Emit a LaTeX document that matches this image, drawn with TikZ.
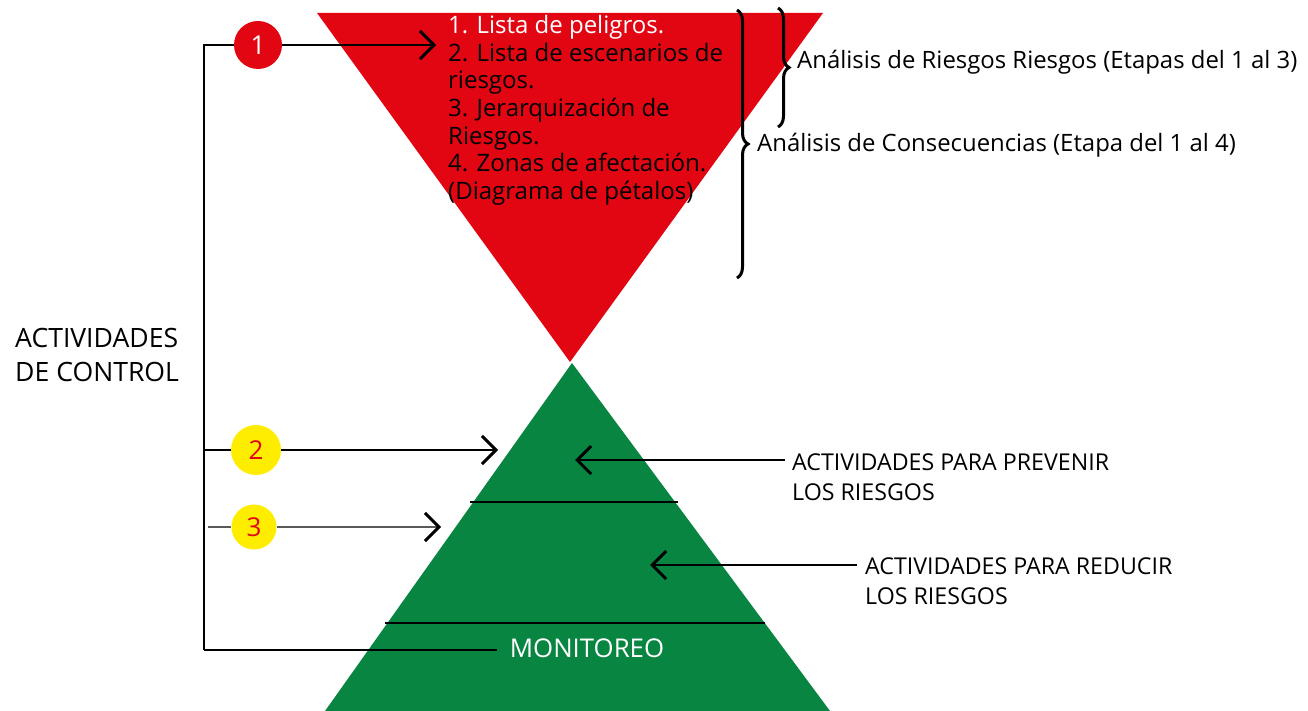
\documentclass[tikz,border=0pt]{standalone}
\usepackage{fontspec}
\setmainfont{Open Sans}
\usetikzlibrary{arrows.meta,decorations.pathreplacing}
\definecolor{tred}{RGB}{226,6,19}
\definecolor{tgreen}{RGB}{7,133,65}
\definecolor{tyellow}{RGB}{255,237,0}
\begin{document}
\begin{tikzpicture}[x=1pt,y=-1pt,
  conn/.style={line width=1.8pt},
  arr/.style={line width=1.6pt,-{Straight Barb[length=14pt,width=28pt,line width=3pt]}},
  num/.style={circle,inner sep=0pt,minimum size=48pt,font=\fontsize{26}{26}\selectfont},
  lbl/.style={inner sep=0pt,anchor=west,font=\fontsize{23.9}{30}\selectfont,align=left},
  act/.style={inner sep=0pt,anchor=west,font=\fontsize{23.2}{30}\selectfont,align=left},
  brc/.style={decorate,line width=3pt,decoration={brace,amplitude=11pt}}]
\useasboundingbox (0,0) rectangle (1308,711);
% triangles
\fill[tred] (317,13) -- (823,13) -- (570,362) -- cycle;
\fill[tgreen] (572,363) -- (830,711) -- (325,711) -- cycle;
\draw[line width=1.6pt] (470,502) -- (678,502);
\draw[line width=1.6pt] (385,623) -- (765,623);
% red triangle text
\node[inner sep=0pt,anchor=north west,align=left,font=\fontsize{24}{27.7}\selectfont] (steps) at (448,15)
 {{\color{white}1. Lista de peligros.}\\2. Lista de escenarios de\\riesgos.\\3. Jerarquización de\\Riesgos.\\4. Zonas de afectación.\\(Diagrama de pétalos)};
% braces
\coordinate (bigtop) at (737,10);
\coordinate (bigbot) at (737,278);
\coordinate (smtop) at (778,8);
\coordinate (smbot) at (778,127);
\draw[brc] (bigtop) -- (bigbot);
\draw[brc] (smtop) -- (smbot);
\node[lbl] (ar) at (797,62) {Análisis de Riesgos Riesgos (Etapas del 1 al 3)};
\node[lbl] (ac) at (757,145) {Análisis de Consecuencias (Etapa del 1 al 4)};
% left label
\node[lbl,font=\fontsize{26.6}{34}\selectfont] (ctrl) at (15,355) {ACTIVIDADES\\DE CONTROL};
% circles
\node[num,fill=tred,text=white] (c1) at (258,45) {1};
\node[num,fill=tyellow,text=tred,minimum size=50pt] (c2) at (256,450) {2};
\node[num,fill=tyellow,text=tred,minimum size=45pt] (c3) at (254,527) {3};
% connector coordinates
\coordinate (tl) at (204,45);
\coordinate (l2) at (204,450);
\coordinate (bl) at (204,650);
\coordinate (s3) at (208,527);
\coordinate (a1) at (436,45);
\coordinate (a2) at (498,450);
\coordinate (a3) at (441,527);
\node[inner sep=0pt,text=white,font=\fontsize{25.8}{25.8}\selectfont] (mon) at (587,648) {MONITOREO};
\coordinate (me) at (497,650);
\draw[conn] (bl) -- (tl) -- (c1.west);
\draw[arr] (c1.east) -- (a1);
\draw[conn] (l2) -- (c2.west);
\draw[arr] (c2.east) -- (a2);
\draw[conn,black!65] (s3) -- (c3.west);
\draw[arr,black!65,-{Straight Barb[length=14pt,width=28pt,line width=3pt,black]}] (c3.east) -- (a3);
\draw[conn] (bl) -- (me);
% right activities
\node[act] (prev) at (792,477) {ACTIVIDADES PARA PREVENIR\\LOS RIESGOS};
\node[act] (red) at (865,581) {ACTIVIDADES PARA REDUCIR\\LOS RIESGOS};
\coordinate (p0) at (785,460);
\coordinate (p1) at (575,460);
\coordinate (r0) at (857,565);
\coordinate (r1) at (650,565);
\draw[arr,line width=1.2pt] (p0) -- (p1);
\draw[arr,line width=1.2pt] (r0) -- (r1);
\end{tikzpicture}
\end{document}
